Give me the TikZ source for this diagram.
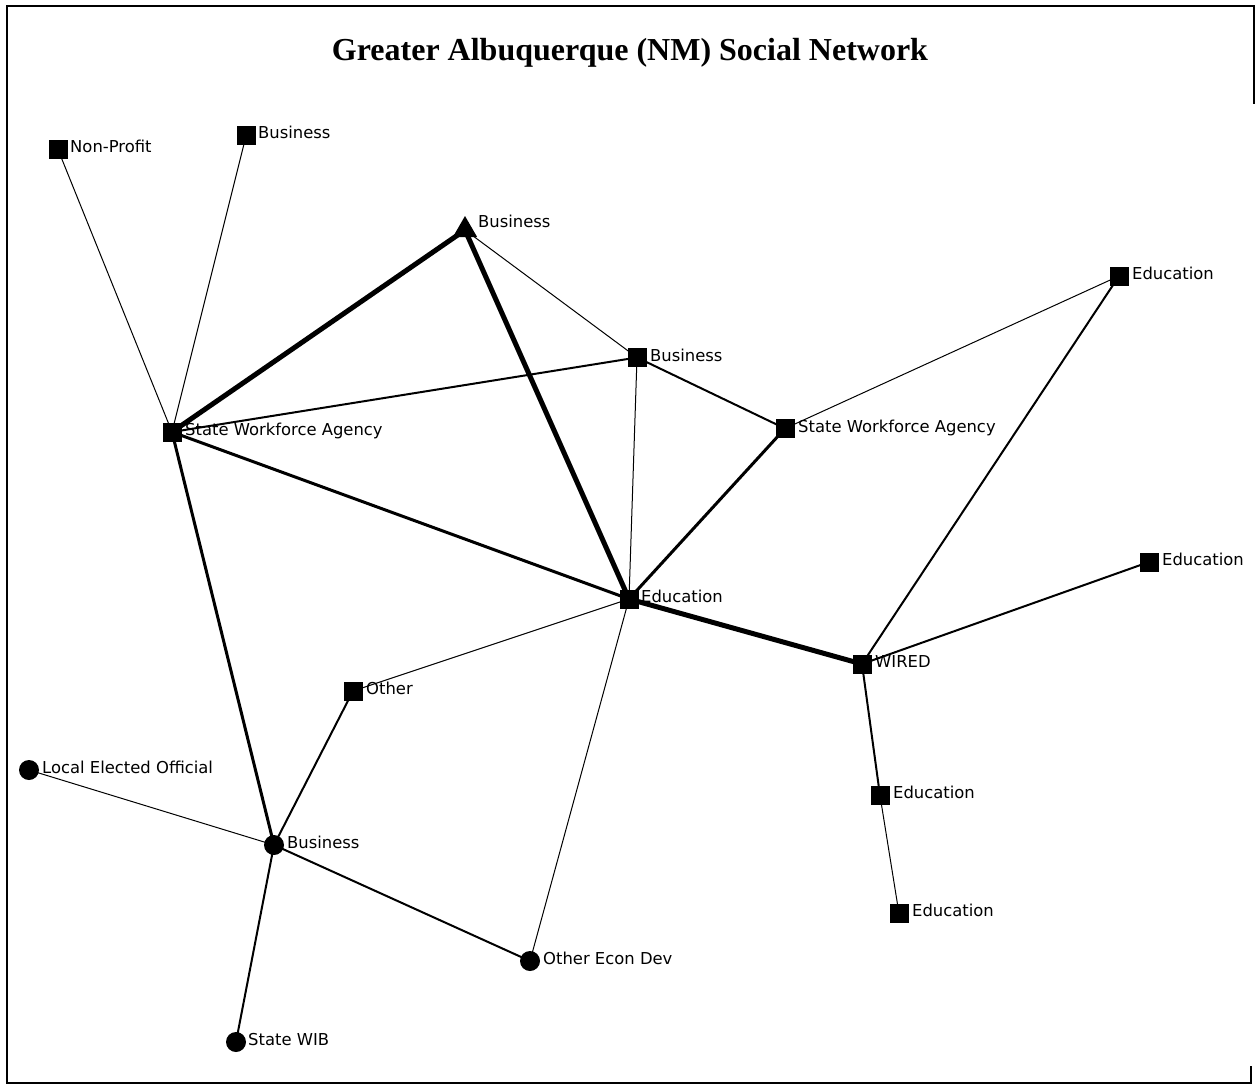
\documentclass[tikz,border=0pt]{standalone}
\usepackage{fontspec}
\usetikzlibrary{shapes.geometric,backgrounds}
\newfontfamily\labfamily{DejaVu Sans}
\newfontfamily\titlefamily{Liberation Serif}
\begin{document}
\begin{tikzpicture}[x=1pt,y=-1pt,
  sq/.style={rectangle,fill=black,minimum size=19pt,inner sep=0pt},
  dot/.style={circle,fill=black,minimum size=20pt,inner sep=0pt},
  tri/.style={regular polygon,regular polygon sides=3,fill=black,minimum size=28pt,inner sep=0pt},
  lab/.style={anchor=base west,inner sep=0pt,font=\labfamily\fontsize{16.4}{19}\selectfont},
  w1/.style={line width=1pt},
  w2/.style={line width=2pt},
  w3/.style={line width=3pt},
  w5/.style={line width=5pt},
  frame/.style={line width=2pt},
  thinframe/.style={line width=1.3pt}]
\useasboundingbox (0,0) rectangle (1255,1086);

% outer frame
\draw[frame] (7,104) -- (7,6) -- (1254,6) -- (1254,104);
\draw[thinframe] (7,104) -- (7,1066);
\draw[frame] (7,1066) -- (7,1083) -- (1251,1083) -- (1251,1066);

% title
\node[anchor=base,inner sep=0pt,font=\titlefamily\bfseries\fontsize{32}{38}\selectfont] (title) at (630,61) {Greater Albuquerque (NM) Social Network};

% actors
\node[sq]  (np)    at (58,149.5) {};
\node[sq]  (b1)    at (246,136) {};
\node[tri] (bt)    at (465,230) {};
\node[sq]  (b2)    at (637,357.5) {};
\node[sq]  (ed1)   at (1119,276) {};
\node[sq]  (swa1)  at (172,432) {};
\node[sq]  (swa2)  at (785,428.5) {};
\node[sq]  (edc)   at (629,599) {};
\node[sq]  (ed2)   at (1149,562) {};
\node[sq]  (wired) at (862,664) {};
\node[sq]  (oth)   at (353,691) {};
\node[dot] (leo)   at (29,770) {};
\node[dot] (bc)    at (274,845) {};
\node[sq]  (ed3)   at (880,795.5) {};
\node[sq]  (ed4)   at (899,913.5) {};
\node[dot] (oed)   at (530,961) {};
\node[dot] (wib)   at (236,1042) {};

% labels
\node[lab] (npt)    at (70,153)    {Non-Profit};
\node[lab] (b1t)    at (258,139)   {Business};
\node[lab] (btt)    at (478,227)   {Business};
\node[lab] (b2t)    at (650,361)   {Business};
\node[lab] (ed1t)   at (1132,279)  {Education};
\node[lab] (swa1t)  at (185,435)   {State Workforce Agency};
\node[lab] (swa2t)  at (798,432)   {State Workforce Agency};
\node[lab] (edct)   at (641,602)   {Education};
\node[lab] (ed2t)   at (1162,565)  {Education};
\node[lab] (wiredt) at (875,667)   {WIRED};
\node[lab] (otht)   at (366,694)   {Other};
\node[lab] (leot)   at (42,773)    {Local Elected Official};
\node[lab] (bct)    at (287,848)   {Business};
\node[lab] (ed3t)   at (893,798)   {Education};
\node[lab] (ed4t)   at (912,916)   {Education};
\node[lab] (oedt)   at (543,964)   {Other Econ Dev};
\node[lab] (wibt)   at (248,1045)  {State WIB};

% ties
\begin{pgfonlayer}{background}
\draw[w1] (np.center) -- (swa1.center);
\draw[w1] (b1.center) -- (swa1.center);
\draw[w5] (swa1.center) -- (bt.center);
\draw[w2] (swa1.center) -- (b2.center);
\draw[w3] (swa1.center) -- (edc.center);
\draw[w3] (swa1.center) -- (bc.center);
\draw[w5] (bt.center) -- (edc.center);
\draw[w1] (bt.center) -- (b2.center);
\draw[w1] (b2.center) -- (edc.center);
\draw[w2] (b2.center) -- (swa2.center);
\draw[w3] (swa2.center) -- (edc.center);
\draw[w1] (ed1.center) -- (swa2.center);
\draw[w2] (ed1.center) -- (wired.center);
\draw[w5] (edc.center) -- (wired.center);
\draw[w1] (edc.center) -- (oth.center);
\draw[w1] (edc.center) -- (oed.center);
\draw[w2] (wired.center) -- (ed2.center);
\draw[w2] (wired.center) -- (ed3.center);
\draw[w1] (ed3.center) -- (ed4.center);
\draw[w2] (oth.center) -- (bc.center);
\draw[w1] (leo.center) -- (bc.center);
\draw[w2] (bc.center) -- (oed.center);
\draw[w2] (bc.center) -- (wib.center);
\end{pgfonlayer}
\end{tikzpicture}
\end{document}
